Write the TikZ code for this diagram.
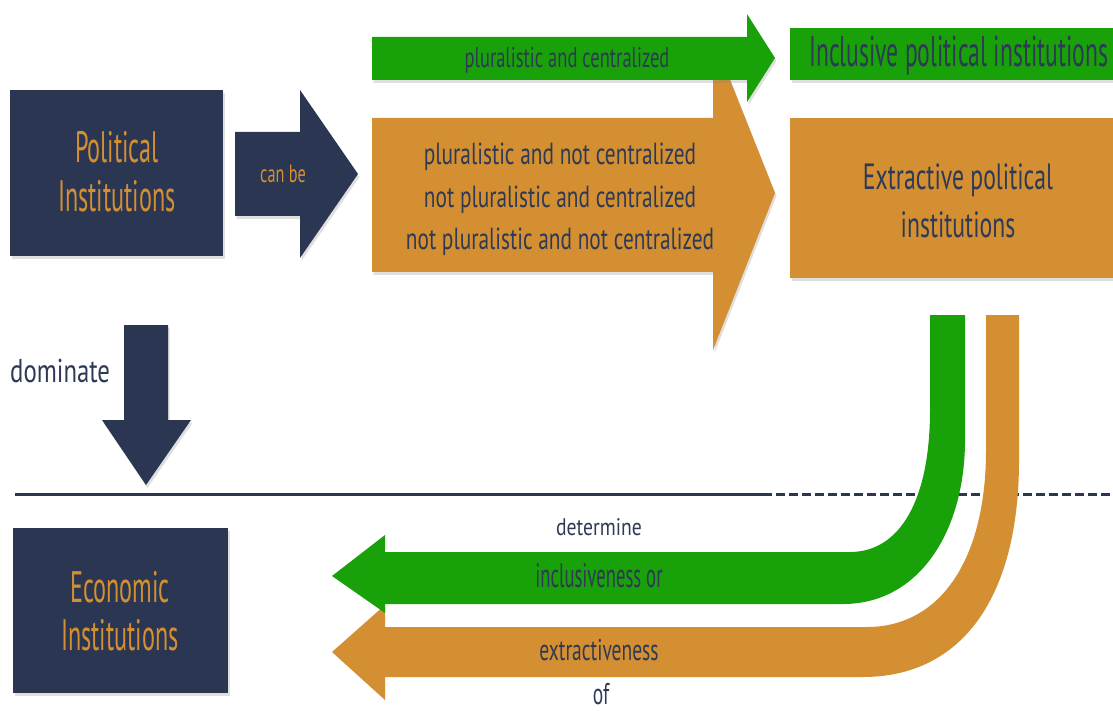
\documentclass[tikz,border=0pt]{standalone}
\usepackage{fontspec}
\setmainfont[FakeStretch=0.55]{PT Sans}
\newfontfamily\narrowA[FakeStretch=0.55]{PT Sans}
\newfontfamily\narrowB[FakeStretch=0.65]{PT Sans}
\newfontfamily\narrowC[FakeStretch=0.70]{PT Sans}
\newfontfamily\narrowD[FakeStretch=0.75]{PT Sans}
\newfontfamily\narrowE[FakeStretch=0.82]{PT Sans}
\usetikzlibrary{shadows}
\definecolor{navy}{HTML}{2B3652}
\definecolor{amber}{HTML}{D38F31}
\definecolor{leaf}{HTML}{19A109}
\definecolor{ink}{HTML}{2E3A55}
\newcommand{\fsz}[2]{#1\fontsize{#2}{#2}\selectfont}
\begin{document}
\begin{tikzpicture}[x=1pt,y=-1pt,
  shade/.style={drop shadow={opacity=0.25,shadow xshift=1.5pt,shadow yshift=-3pt}},
  block/.style={shade,draw=none,inner sep=0pt,anchor=north west},
  lbl/.style={inner sep=0pt,anchor=base,text=ink},
  gold/.style={lbl,text=amber}]
\useasboundingbox[fill=white] (0,0) rectangle (1113,711);

% ---- top row: political institutions and what they can be
\node[block,fill=navy,minimum width=213pt,minimum height=166pt] (polbox) at (10,90) {};
\node[gold,font=\fsz\narrowA{44}] (pol1) at (117,163) {Political};
\node[gold,font=\fsz\narrowA{44}] (pol2) at (117,212) {Institutions};

\fill[navy,shade] (235,132) -- (300,132) -- (300,90) -- (358,174) -- (300,258) -- (300,216) -- (235,216) -- cycle;
\node[gold,font=\fsz\narrowB{25}] (canbe) at (283,183) {can be};

% orange arrow (the other three combinations), under the green one
\fill[amber,shade] (372,118) -- (713,118) -- (713,37) -- (775,193) -- (713,350) -- (713,272) -- (372,272) -- cycle;
\node[lbl,font=\fsz\narrowC{30.5}] (combo1) at (560,165) {pluralistic and not centralized};
\node[lbl,font=\fsz\narrowC{30.5}] (combo2) at (560,208) {not pluralistic and centralized};
\node[lbl,font=\fsz\narrowC{30.5}] (combo3) at (560,250) {not pluralistic and not centralized};

% green arrow (pluralistic and centralized)
\fill[leaf,shade] (372,37) -- (747,37) -- (747,14) -- (775,58) -- (747,102) -- (747,80) -- (372,80) -- cycle;
\node[lbl,font=\fsz\narrowB{28.5}] (pc) at (567,68) {pluralistic and centralized};

% outcome boxes
\node[block,fill=leaf,minimum width=340pt,minimum height=52pt] (incbox) at (790,28) {};
\node[lbl,font=\fsz\narrowA{43},anchor=base west] (inctxt) at (809,67) {Inclusive political institutions};
\node[block,fill=amber,minimum width=340pt,minimum height=160pt] (extbox) at (790,118) {};
\node[lbl,font=\fsz\narrowB{36.5}] (ext1) at (958,190) {Extractive political};
\node[lbl,font=\fsz\narrowB{36.5}] (ext2) at (958,238) {institutions};

% ---- dominate arrow and divider
\fill[navy,shade] (124,325) -- (168,325) -- (168,420) -- (191,420) -- (146,485) -- (102,420) -- (124,420) -- cycle;
\node[lbl,font=\fsz\narrowD{33},anchor=base west] (dom) at (10,382) {dominate};

\coordinate (lineL) at (15,494);
\coordinate (lineM) at (763,494);
\coordinate (lineR) at (1113,494);
\draw[navy,line width=3pt] (lineL) -- (lineM);
\draw[navy,line width=3pt,dash pattern=on 9pt off 4pt] (lineM) -- (lineR);

% ---- return arrows from the outcomes to economic institutions
\fill[amber] (1019,315) -- (1019,460) .. controls (1019,600) and (960,677) .. (863,677)
  -- (385,677) -- (385,700) -- (332,652) -- (385,605) -- (385,627) -- (867,627)
  .. controls (940,627) and (986,560) .. (986,450) -- (986,315) -- cycle;
\fill[leaf] (965,315) -- (965,440) .. controls (965,530) and (920,604) .. (843,604)
  -- (385,604) -- (385,613) -- (332,576) -- (385,535) -- (385,552) -- (850,552)
  .. controls (900,552) and (930,500) .. (930,410) -- (930,315) -- cycle;

\node[lbl,font=\fsz\narrowE{24}] (det) at (599,535) {determine};
\node[lbl,font=\fsz\narrowA{34}] (incl) at (599,587) {inclusiveness or};
\node[lbl,font=\fsz\narrowB{30}] (extr) at (599,660) {extractiveness};
\node[lbl,font=\fsz\narrowB{30}] (of) at (601,704) {of};

\node[block,fill=navy,minimum width=215pt,minimum height=165pt] (ecobox) at (13,528) {};
\node[gold,font=\fsz\narrowA{44}] (eco1) at (120,602) {Economic};
\node[gold,font=\fsz\narrowA{44}] (eco2) at (120,650) {Institutions};
\end{tikzpicture}
\end{document}
